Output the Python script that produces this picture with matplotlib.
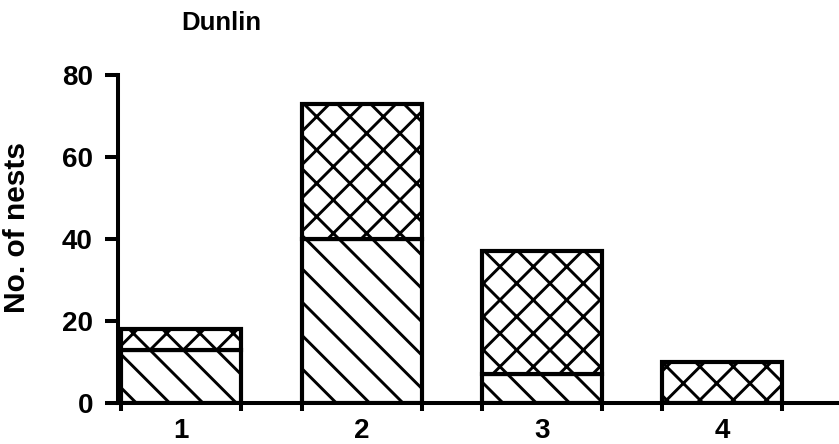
import numpy as np
import matplotlib.pyplot as plt

# === Data ===
categories = [1, 2, 3, 4]
lower = [13, 40, 7, 0]        # diagonal-hatched part
upper = [5, 33, 30, 10]       # cross-hatched part
yticks = [0, 20, 40, 60, 80]

# === Style ===
DPI = 100
plt.rcParams['font.family'] = ['Liberation Sans', 'DejaVu Sans']
plt.rcParams['font.weight'] = 'bold'
plt.rcParams['hatch.linewidth'] = 2.1
plt.rcParams['hatch.color'] = 'black'

fig = plt.figure(figsize=(839 / DPI, 444 / DPI), dpi=DPI)
ax = fig.add_axes([118 / 839, 41 / 444, 721 / 839, 328 / 444])

width = 0.666
x = np.array(categories, dtype=float)
ax.bar(x, lower, width=width, facecolor='white', edgecolor='black',
       linewidth=3, hatch='\\')
ax.bar(x, upper, width=width, bottom=lower, facecolor='white',
       edgecolor='black', linewidth=3, hatch='x')

ax.set_xlim(0.648, 4.649)
ax.set_ylim(0, 80)

for s in ['top', 'right']:
    ax.spines[s].set_visible(False)
ax.spines['left'].set_bounds(0, 80)
ax.spines['left'].set_linewidth(2.9)
ax.spines['bottom'].set_linewidth(2.9)

ax.set_yticks(yticks)
ax.tick_params(axis='y', length=9.5, width=2.9, pad=8.5, labelsize=20)

ax.set_xticks(x)
ax.set_xticklabels([str(c) for c in categories])
ax.set_xticks(np.concatenate([x - width / 2, x + width / 2]), minor=True)
ax.tick_params(axis='x', which='major', length=0, pad=11, labelsize=20)
ax.tick_params(axis='x', which='minor', length=6, width=2.9, direction='out')

ax.set_ylabel('No. of nests', fontsize=21.5, fontweight='bold')
ax.yaxis.set_label_coords(-0.121, 0.534)
fig.text(221 / 839, 1 - 23 / 444, 'Dunlin', ha='center', va='center',
         fontsize=18.5, fontweight='bold')

fig.savefig('out.png', dpi=DPI)
